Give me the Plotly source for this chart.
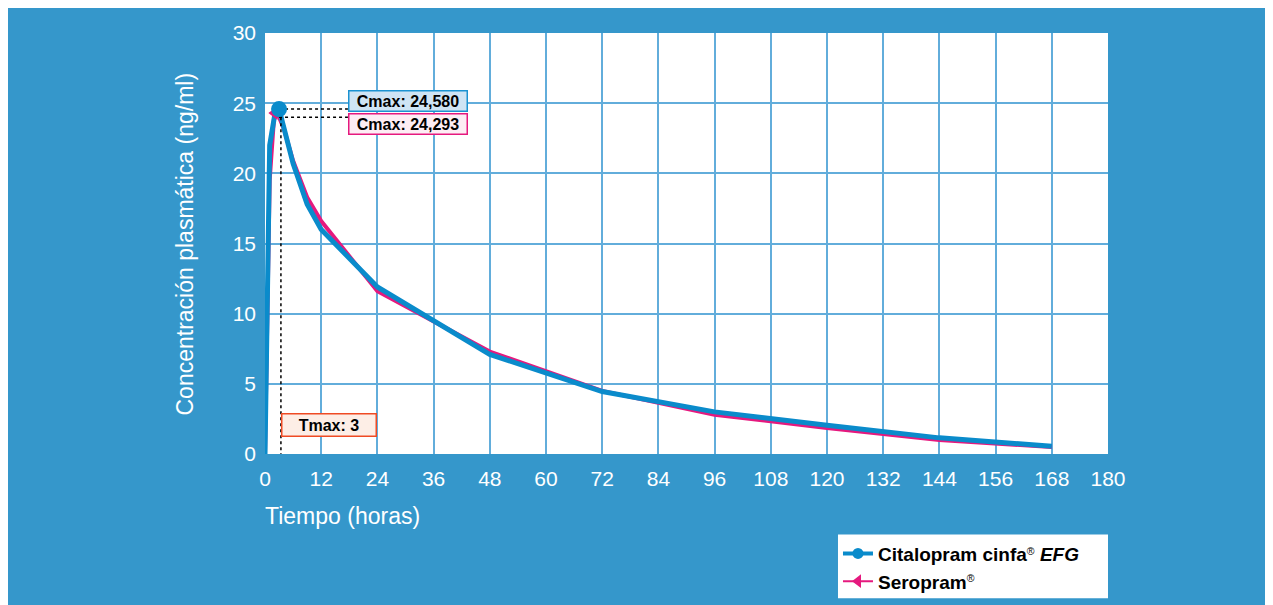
import plotly.graph_objects as go

# ---- data ----
t_cinfa = [0, 1, 2, 3, 4, 6, 9, 12, 24, 48, 72, 96, 120, 144, 168]
c_cinfa = [0, 22.0, 24.0, 24.58, 23.3, 20.7, 17.8, 16.0, 11.9, 7.1, 4.45, 3.0, 2.05, 1.15, 0.55]
t_sero = [0, 1, 2, 3, 4, 6, 9, 12, 24, 48, 72, 96, 120, 144, 168]
c_sero = [0, 19.5, 24.293, 24.0, 23.2, 20.9, 18.3, 16.6, 11.6, 7.3, 4.5, 2.8, 1.85, 1.0, 0.5]
cmax_cinfa = 24.580
cmax_sero = 24.293
tmax = 3
x_ticks = list(range(0, 181, 12))
y_ticks = list(range(0, 31, 5))

BG = "#3597cb"
BLUE = "#0a8bcb"
PINK = "#e5197e"
WHITE = "white"
FONT = "Liberation Sans, Arial, Helvetica, sans-serif"

fig = go.Figure()

fig.add_trace(go.Scatter(x=t_sero, y=c_sero, mode="lines",
                         line=dict(color=PINK, width=4), showlegend=False, hoverinfo="skip"))
fig.add_trace(go.Scatter(x=t_cinfa, y=c_cinfa, mode="lines",
                         line=dict(color=BLUE, width=5), showlegend=False, hoverinfo="skip"))

# dotted guide lines
x_label = 17.7
fig.add_trace(go.Scatter(x=[tmax, x_label], y=[cmax_cinfa, cmax_cinfa], mode="lines",
                         line=dict(color="black", width=1.5, dash="dot"), showlegend=False, hoverinfo="skip"))
fig.add_trace(go.Scatter(x=[tmax, x_label], y=[cmax_sero - 0.3, cmax_sero - 0.3], mode="lines",
                         line=dict(color="black", width=1.5, dash="dot"), showlegend=False, hoverinfo="skip"))
fig.add_trace(go.Scatter(x=[tmax + 0.4, tmax + 0.4], y=[cmax_sero - 0.3, 0], mode="lines",
                         line=dict(color="black", width=1.5, dash="dot"), showlegend=False, hoverinfo="skip"))

# peak markers
fig.add_trace(go.Scatter(x=[2], y=[cmax_sero], mode="markers",
                         marker=dict(symbol="triangle-left", size=12, color=PINK), showlegend=False))
fig.add_trace(go.Scatter(x=[tmax], y=[cmax_cinfa], mode="markers",
                         marker=dict(symbol="circle", size=16, color=BLUE), showlegend=False))

# legend-only traces
fig.add_trace(go.Scatter(x=[None], y=[None], mode="lines+markers",
                         name="Citalopram cinfa<span style='font-size:15px;font-weight:normal'><sup>®</sup></span> <i>EFG</i>",
                         line=dict(color=BLUE, width=4), marker=dict(symbol="circle", size=11, color=BLUE)))
fig.add_trace(go.Scatter(x=[None], y=[None], mode="lines+markers",
                         name="Seropram<span style='font-size:15px;font-weight:normal'><sup>®</sup></span>",
                         line=dict(color=PINK, width=2), marker=dict(symbol="triangle-left", size=12, color=PINK)))

ann_font = dict(family=FONT, size=16, color="black")
fig.add_annotation(x=30.5, y=25.16, text="<b>Cmax: 24,580</b>", showarrow=False, font=ann_font,
                   bgcolor="#cfe4f4", bordercolor="#1b92d1", borderwidth=1.5, width=115, height=17,
                   borderpad=1)
fig.add_annotation(x=30.5, y=23.53, text="<b>Cmax: 24,293</b>", showarrow=False, font=ann_font,
                   bgcolor="#fdedf4", bordercolor=PINK, borderwidth=1.5, width=115, height=17,
                   borderpad=1)
fig.add_annotation(x=13.7, y=2.06, text="<b>Tmax: 3</b>", showarrow=False, font=ann_font,
                   bgcolor="#fdeee6", bordercolor="#ef4b24", borderwidth=1.5, width=91, height=19,
                   borderpad=1)

# axis titles
fig.add_annotation(xref="paper", yref="paper", x=-0.0024, y=-0.1466, xanchor="left", yanchor="middle",
                   text="Tiempo (horas)", showarrow=False,
                   font=dict(family=FONT, size=23, color=WHITE))
fig.add_annotation(xref="paper", yref="paper", x=-0.0949, y=0.5, xanchor="center", yanchor="middle",
                   text="Concentración plasmática (ng/ml)", showarrow=False, textangle=-90,
                   font=dict(family=FONT, size=23, color=WHITE))

# legend box
fig.add_shape(type="rect", xref="paper", yref="paper", x0=0.6797, x1=1.0, y0=-0.3428, y1=-0.1915,
              fillcolor="white", line=dict(width=0), layer="below")

axis_font = dict(family=FONT, size=21, color=WHITE)
fig.update_xaxes(range=[0, 180], tickvals=x_ticks, ticktext=[str(v) for v in x_ticks],
                 showgrid=True, gridcolor="#62addb", gridwidth=2, zeroline=False,
                 showline=False, ticks="", tickfont=axis_font, ticklabelstandoff=10)
fig.update_yaxes(range=[0, 30], tickvals=y_ticks, ticktext=[str(v) for v in y_ticks],
                 showgrid=True, gridcolor="#62addb", gridwidth=2, zeroline=False,
                 showline=False, ticks="", tickfont=axis_font, ticklabelstandoff=8)

fig.update_layout(
    width=1273, height=605,
    margin=dict(l=257, r=173, t=25, b=157),
    paper_bgcolor=BG, plot_bgcolor="white",
    showlegend=True,
    legend=dict(x=0.6797, xanchor="left", y=-0.1915, yanchor="top", bgcolor="rgba(0,0,0,0)",
                borderwidth=0, font=dict(family=FONT, size=19, color="black", weight="bold"),
                itemwidth=30, tracegroupgap=0),
)

fig.write_html("out.html")
